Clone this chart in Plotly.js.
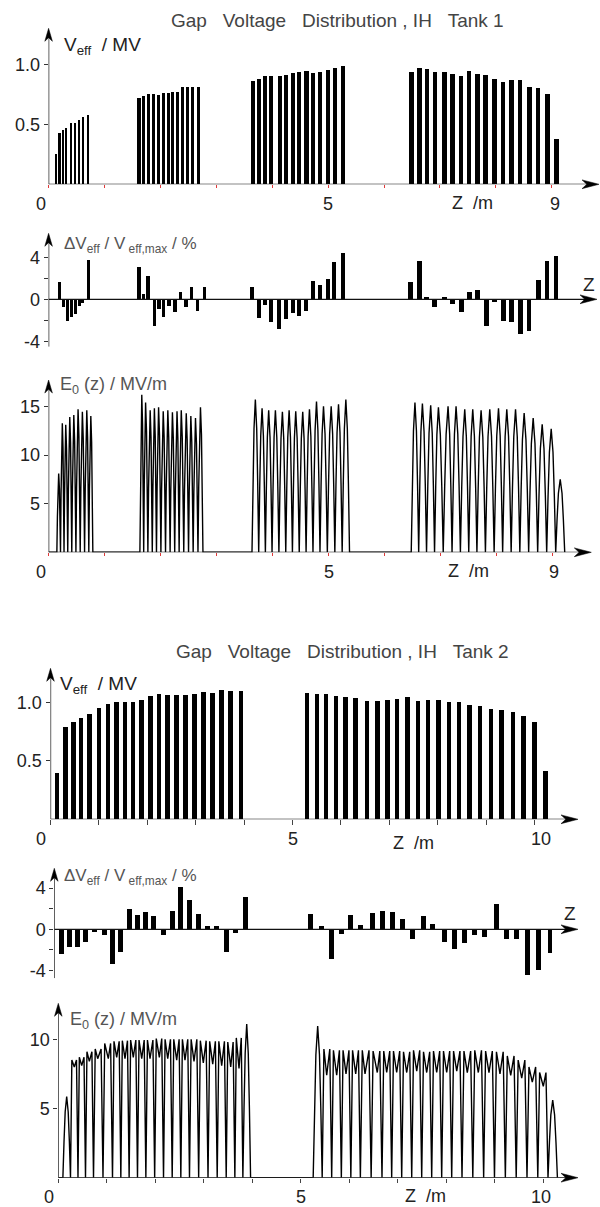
<!DOCTYPE html>
<html>
<head>
<meta charset="utf-8">
<script src="https://cdn.plot.ly/plotly-3.0.1.min.js"></script>
<style>
html,body{margin:0;padding:0;background:#fff;}
#chart{width:600px;height:1207px;}
</style>
</head>
<body>
<div id="chart"></div>
<script>
// ---------------- DATA ----------------
// Tank 1 : gap positions z (m) and effective gap voltages (MV)
const t1VzG1 = [0.14, 0.195, 0.255, 0.32, 0.40, 0.47, 0.545, 0.62, 0.705];
const t1VG1  = [0.25, 0.43, 0.45, 0.47, 0.51, 0.51, 0.54, 0.56, 0.58];
const t1VzG2 = [1.617, 1.70, 1.785, 1.875, 1.96, 2.05, 2.14, 2.225, 2.31, 2.40, 2.49, 2.58, 2.673];
const t1VG2  = [0.717, 0.736, 0.75, 0.75, 0.747, 0.758, 0.758, 0.767, 0.772, 0.808, 0.814, 0.808, 0.808];
const t1VzG3 = [3.657, 3.76, 3.87, 3.98, 4.136, 4.25, 4.367, 4.485, 4.614, 4.726, 4.85, 4.995, 5.12, 5.26];
const t1VG3  = [0.861, 0.88, 0.903, 0.903, 0.9, 0.911, 0.925, 0.936, 0.944, 0.93, 0.936, 0.953, 0.967, 0.99];
const t1VzG4 = [6.487, 6.632, 6.766, 6.909, 7.082, 7.225, 7.377, 7.523, 7.671, 7.82, 7.977, 8.13, 8.28, 8.433, 8.6, 8.755, 8.929, 9.082];
const t1VG4  = [0.933, 0.969, 0.958, 0.933, 0.933, 0.919, 0.906, 0.942, 0.919, 0.908, 0.875, 0.856, 0.867, 0.867, 0.811, 0.806, 0.756, 0.381];

// Tank 1 : deviation dV_eff / V_eff,max (%)
const t1DzG1 = [0.19, 0.27, 0.335, 0.405, 0.477, 0.549, 0.615, 0.71];
const t1DG1  = [1.65, -0.7, -2.03, -1.65, -1.4, -0.63, -0.38, 3.75];
const t1DzG2 = [1.617, 1.70, 1.778, 1.89, 1.975, 2.058, 2.154, 2.26, 2.363, 2.458, 2.56, 2.667, 2.785];
const t1DG2  = [3.08, 0.5, 2.22, -2.5, -0.92, -1.65, -0.63, -1.17, 0.7, -0.7, 1.17, -1.08, 1.17];
const t1DzG3 = [3.638, 3.763, 3.87, 3.978, 4.116, 4.247, 4.366, 4.485, 4.605, 4.73, 4.855, 4.998, 5.11, 5.26];
const t1DG3  = [1.17, -1.75, -0.54, -2.13, -2.86, -1.84, -1.33, -1.56, -1.08, 1.78, 1.37, 1.94, 3.56, 4.38];
const t1DzG4 = [6.47, 6.64, 6.757, 6.9, 7.08, 7.222, 7.383, 7.533, 7.676, 7.83, 7.98, 8.134, 8.277, 8.438, 8.594, 8.76, 8.916, 9.077];
const t1DG4  = [1.68, 3.65, 0.25, -0.7, 0.22, -0.41, -1.17, 0.7, 0.89, -2.5, -0.25, -2.03, -2.13, -3.27, -2.98, 1.84, 3.65, 4.13];

// Tank 1 : on-axis field E0(z) peak positions (m) and peak values (MV/m)
const t1EzG1 = [0.18, 0.245, 0.306, 0.378, 0.45, 0.526, 0.603, 0.682, 0.754];
const t1EG1  = [8.1, 13.25, 13.1, 13.9, 14.1, 14.7, 14.45, 14.6, 14.0];
const t1EzG2 = [1.664, 1.732, 1.814, 1.889, 1.964, 2.047, 2.129, 2.211, 2.293, 2.369, 2.458, 2.54, 2.623, 2.712];
const t1EG2  = [16.2, 15.4, 14.6, 14.8, 14.9, 14.5, 14.6, 14.4, 14.5, 14.6, 14.3, 14.0, 13.8, 14.9];
const t1EzG3 = [3.692, 3.812, 3.93, 4.05, 4.175, 4.295, 4.413, 4.538, 4.658, 4.784, 4.909, 5.046, 5.177, 5.308];
const t1EG3  = [15.7, 14.8, 14.6, 14.6, 14.45, 14.6, 14.5, 14.45, 14.7, 15.5, 15.0, 15.0, 15.2, 15.7];
const t1EzG4 = [6.542, 6.675, 6.823, 6.961, 7.133, 7.276, 7.431, 7.574, 7.723, 7.878, 8.034, 8.182, 8.338, 8.492, 8.653, 8.814, 8.975, 9.136];
const t1EG4  = [15.4, 15.3, 15.1, 14.9, 15.0, 15.0, 14.7, 14.7, 14.6, 14.7, 14.8, 14.7, 14.7, 14.3, 13.8, 13.15, 12.7, 7.5];

// Tank 2 : effective gap voltages (MV)
const t2VzG1 = [0.14, 0.306, 0.471, 0.636, 0.802, 1.0, 1.188, 1.36, 1.54, 1.705, 1.884, 2.062, 2.242, 2.421, 2.607, 2.785, 2.979, 3.157, 3.351, 3.537, 3.723, 3.936];
const t2VG1  = [0.40, 0.787, 0.837, 0.869, 0.899, 0.952, 0.989, 1.003, 1.003, 1.003, 1.023, 1.053, 1.069, 1.063, 1.063, 1.066, 1.072, 1.091, 1.083, 1.103, 1.1, 1.1];
const t2VzG2 = [5.3, 5.5, 5.698, 5.899, 6.099, 6.298, 6.545, 6.752, 6.959, 7.165, 7.38, 7.593, 7.799, 8.02, 8.233, 8.44, 8.653, 8.88, 9.101, 9.314, 9.55, 9.769, 9.996, 10.223];
const t2VG2  = [1.08, 1.071, 1.071, 1.058, 1.051, 1.037, 1.015, 1.015, 1.024, 1.034, 1.048, 1.016, 1.018, 1.018, 1.007, 1.003, 0.98, 0.966, 0.945, 0.937, 0.915, 0.883, 0.832, 0.415];

// Tank 2 : deviation (%)
const t2DzG1 = [0.149, 0.306, 0.479, 0.636, 0.822, 1.03, 1.194, 1.374, 1.545, 1.711, 1.89, 2.056, 2.262, 2.434, 2.614, 2.8, 2.986, 3.171, 3.357, 3.564, 3.75, 3.942];
const t2DG1  = [-2.42, -1.68, -1.74, -1.19, -0.23, -0.58, -3.39, -2.23, 1.97, 1.39, 1.68, 1.29, -0.52, 1.77, 4.06, 2.84, 1.48, 0.35, 0.35, -2.16, -0.32, 3.13];
const t2DzG2 = [5.3, 5.512, 5.719, 5.934, 6.12, 6.318, 6.566, 6.773, 6.979, 7.2, 7.4, 7.62, 7.82, 8.054, 8.26, 8.467, 8.674, 8.888, 9.128, 9.343, 9.556, 9.783, 10.01, 10.24];
const t2DG2  = [1.48, 0.32, -2.84, -0.45, 1.39, 0.42, 1.61, 1.81, 1.68, 1.03, -0.9, 1.29, 0.55, -1.19, -1.94, -1.35, -0.52, -0.71, 2.45, -0.9, -0.9, -4.45, -3.97, -2.26];

// Tank 2 : E0(z) peak positions, peak values and M-dip values (null = single hump)
const t2EzG1 = [0.173, 0.33, 0.482, 0.64, 0.812, 1.031, 1.204, 1.375, 1.546, 1.72, 1.891, 2.083, 2.256, 2.441, 2.612, 2.798, 2.99, 3.184, 3.369, 3.555, 3.726, 3.885];
const t2EG1  = [5.86, 8.5, 8.7, 9.1, 9.3, 9.7, 9.85, 9.9, 9.95, 9.95, 9.95, 10.05, 10.0, 10.0, 10.0, 10.0, 9.9, 9.85, 9.85, 9.8, 10.1, 11.1];
const t2EdG1 = [null, 8.0, 8.1, 8.4, 8.6, 8.6, 8.7, 8.6, 8.7, 8.6, 8.6, 8.7, 8.6, 8.5, 8.5, 8.4, 8.3, 8.2, 8.1, 8.0, 7.9, null];
const t2EzG2 = [5.348, 5.534, 5.74, 5.932, 6.132, 6.324, 6.577, 6.771, 6.977, 7.184, 7.39, 7.596, 7.802, 8.008, 8.215, 8.433, 8.66, 8.88, 9.107, 9.328, 9.555, 9.773, 10.0, 10.194];
const t2EG2  = [10.96, 9.3, 9.2, 9.2, 9.2, 9.2, 9.15, 9.15, 9.15, 9.1, 9.2, 9.1, 9.15, 9.15, 9.15, 9.15, 9.2, 9.15, 9.1, 8.8, 8.5, 8.0, 7.6, 5.6];
const t2EdG2 = [null, 7.4, 7.4, 7.5, 7.5, 7.5, 7.6, 7.6, 7.6, 7.6, 7.7, 7.6, 7.6, 7.6, 7.7, 7.6, 7.6, 7.6, 7.5, 7.4, 7.2, 6.9, 6.6, null];

// Tick values / labels
const t1XTicks = [0,1,2,3,4,5,6,7,8,9];
const t1XLabels = [0,5,9];
const t2XTicks = [0,1,2,3,4,5,6,7,8,9,10];
const t2XLabels = [0,5,10];
const vTicks = [0.5, 1.0], vTickText = ['0.5','1.0'];
const dTicks = [-4,0,4], dTickText = ['-4','0','4'];
const dMinorTicks = [-2,2];
const e1Ticks = [5,10,15], e1TickText = ['5','10','15'];
const e2Ticks = [5,10], e2TickText = ['5','10'];

const title1 = 'Gap\u00A0\u00A0\u00A0Voltage\u00A0\u00A0\u00A0Distribution\u00A0, IH\u00A0\u00A0\u00A0Tank 1';
const title2 = 'Gap\u00A0\u00A0\u00A0Voltage\u00A0\u00A0\u00A0Distribution\u00A0, IH\u00A0\u00A0\u00A0Tank 2';
const labV = 'V<sub>eff</sub>\u00A0\u00A0/ MV';
const labD = '\u0394V<sub>eff</sub>\u00A0/\u00A0V<sub>\u00A0eff,max</sub>\u00A0/\u00A0%';
const labE = 'E<sub>0</sub>\u00A0(z)\u00A0/\u00A0MV/m';
const labZ = 'Z\u00A0\u00A0/m';

// ---------------- GEOMETRY / STYLE ----------------
const W = 600, H = 1207;
const FONT = 'Liberation Sans, Arial, Helvetica, sans-serif';
const geo = {
  1: {x0:48.6, kx:55.9, xe:599,   y0:184.3,  ky:120,   yt:28.3,   yb:184.3},
  2: {x0:48.6, kx:55.9, xe:597,   y0:299.3,  ky:10.5,  yt:233.3,  yb:346.7},
  3: {x0:48.6, kx:56.0, xe:591.3, y0:552.3,  ky:9.73,  yt:380,    yb:552.3},
  4: {x0:50.5, kx:48.4, xe:578,   y0:819.3,  ky:116.8, yt:668.3,  yb:819.3},
  5: {x0:54.3, kx:48.4, xe:578,   y0:929.3,  ky:10.3,  yt:868.3,  yb:978.3},
  6: {x0:58.3, kx:48.5, xe:578,   y0:1177.7, ky:13.84, yt:1003.3, yb:1177.7}
};
function xr(g){return [0,(g.xe-g.x0)/g.kx];}
function yr(g){return [(g.y0-g.yb)/g.ky,(g.y0-g.yt)/g.ky];}
function px(x){return x/W;}
function py(y){return 1-y/H;}

// pulse line built from read peaks (valleys between neighbouring gaps)
function pulses(zs, ps, ds){
  const X=[],Y=[]; const n=zs.length;
  for(let i=0;i<n;i++){
    const c=zs[i], p=ps[i];
    const L = i===0 ? c-(zs[1]-c)/2 : (zs[i-1]+c)/2;
    const R = i===n-1 ? c+(c-zs[n-2])/2 : (c+zs[i+1])/2;
    const w=R-L;
    if(i===0){X.push(L);Y.push(0);}
    const d = ds ? ds[i] : null;
    if(d===null||d===undefined){
      X.push(L+0.3*(c-L), L+0.6*(c-L), c, c+0.4*(R-c), c+0.7*(R-c), R);
      Y.push(0.45*p, 0.81*p, p, 0.81*p, 0.45*p, 0);
    } else {
      X.push(L+0.18*w, c, R-0.2*w, R); Y.push(p, d, p, 0);
    }
  }
  return {X,Y};
}
function eTrace(groups, ax){
  let X=[0],Y=[0];
  groups.forEach(g=>{const r=pulses(g[0],g[1],g[2]); X=X.concat(r.X); Y=Y.concat(r.Y);});
  return {type:'scatter',mode:'lines',x:X,y:Y,xaxis:'x'+ax,yaxis:'y'+ax,
    line:{color:'#000',width:1.4},hoverinfo:'skip'};
}
function bar(x,y,w,ax){
  return {type:'bar',x:x,y:y,width:w,xaxis:'x'+ax,yaxis:'y'+ax,
    marker:{color:'#000',line:{width:0}},hoverinfo:'skip'};
}

const data = [
  bar(t1VzG1,t1VG1,0.036,1), bar(t1VzG2,t1VG2,0.054,1), bar(t1VzG3,t1VG3,0.075,1), bar(t1VzG4,t1VG4,0.082,1),
  bar(t1DzG1,t1DG1,0.054,2), bar(t1DzG2,t1DG2,0.062,2), bar(t1DzG3,t1DG3,0.072,2), bar(t1DzG4,t1DG4,0.086,2),
  eTrace([[t1EzG1,t1EG1],[t1EzG2,t1EG2],[t1EzG3,t1EG3],[t1EzG4,t1EG4]],3),
  bar(t2VzG1,t2VG1,0.091,4), bar(t2VzG2,t2VG2,0.091,4),
  bar(t2DzG1,t2DG1,0.1,5), bar(t2DzG2,t2DG2,0.1,5),
  eTrace([[t2EzG1,t2EG1,t2EdG1],[t2EzG2,t2EG2,t2EdG2]],6)
];

const layout = {
  width:W, height:H, margin:{l:0,r:0,t:0,b:0},
  paper_bgcolor:'#fff', plot_bgcolor:'rgba(0,0,0,0)',
  showlegend:false, barmode:'overlay', bargap:0,
  font:{family:FONT, color:'#222', size:18},
  shapes:[], annotations:[]
};

const xTickCfg = {
  1:{vals:t1XTicks, color:'#e03a3a', len:3},
  2:null,
  3:{vals:t1XTicks, color:'#e03a3a', len:3},
  4:{vals:t2XTicks, color:'#444', len:5},
  5:null,
  6:{vals:t2XTicks, color:'#444', len:4}
};
const yTickCfg = {
  1:[vTicks,vTickText], 2:[dTicks,dTickText], 3:[e1Ticks,e1TickText],
  4:[vTicks,vTickText], 5:[dTicks,dTickText], 6:[e2Ticks,e2TickText]
};

for(let i=1;i<=6;i++){
  const g=geo[i];
  const xt=xTickCfg[i];
  layout['xaxis'+i] = {
    domain:[px(g.x0),px(g.xe)], range:xr(g), anchor:'y'+i,
    showgrid:false, zeroline:false, showline:false, fixedrange:true,
    ticks: xt?'outside':'', tickvals: xt?xt.vals:[], ticklen: xt?xt.len:0,
    tickcolor: xt?xt.color:'#000', tickwidth:1, showticklabels:false
  };
  layout['yaxis'+i] = {
    domain:[py(g.yb),py(g.yt)], range:yr(g), anchor:'x'+i,
    showgrid:false, zeroline:false, showline:false, fixedrange:true,
    ticks:'outside', ticklen:4, tickcolor:'#333', tickwidth:1,
    tickvals:yTickCfg[i][0], ticktext:yTickCfg[i][1],
    tickfont:{family:FONT,size:18,color:'#222'}
  };
  if(i===2||i===5){
    layout['yaxis'+i].minor = {tickvals:dMinorTicks, ticks:'outside', ticklen:4, tickcolor:'#333', tickwidth:1, showgrid:false};
  }
  const ymin=yr(g)[0], ymax=yr(g)[1], xmax=xr(g)[1];
  // axis lines
  layout.shapes.push({type:'line',xref:'x'+i,yref:'y'+i,x0:0,y0:0,x1:xmax-0.1,y1:0,line:{color:'#111',width:1.3}});
  layout.shapes.push({type:'line',xref:'x'+i,yref:'y'+i,x0:0,y0:ymin,x1:0,y1:ymax-(6/g.ky),line:{color:'#111',width:1.3}});
  // arrow heads (pixel geometry)
  const tx=g.xe, ty=g.y0, Lx=17, hx=4.4;
  layout.shapes.push({type:'path',xref:'paper',yref:'paper',
    path:`M${px(tx)},${py(ty)} L${px(tx-Lx)},${py(ty-hx)} L${px(tx-Lx*0.72)},${py(ty)} L${px(tx-Lx)},${py(ty+hx)} Z`,
    fillcolor:'#000',line:{color:'#000',width:0.5}});
  const ux=g.x0, uy=g.yt, Ly=13, hy=3.8;
  layout.shapes.push({type:'path',xref:'paper',yref:'paper',
    path:`M${px(ux)},${py(uy)} L${px(ux-hy)},${py(uy+Ly)} L${px(ux)},${py(uy+Ly*0.72)} L${px(ux+hy)},${py(uy+Ly)} Z`,
    fillcolor:'#000',line:{color:'#000',width:0.5}});
}

// x tick labels
function xLabels(ax, labels, ysh, shifts){
  labels.forEach(v=>{
    layout.annotations.push({xref:'x'+ax,yref:'y'+ax,x:v,y:0,text:String(v),showarrow:false,
      xanchor:'center',yanchor:'top',yshift:-ysh,xshift:(shifts[v]||0),
      font:{family:FONT,size:18,color:'#222'}});
  });
}
xLabels(1,t1XLabels,8,{0:-8,9:3});
xLabels(3,t1XLabels,8,{0:-8,9:1});
xLabels(4,t2XLabels,8,{0:-10,10:6});
xLabels(6,t2XLabels,7,{0:-9,10:-2});

function txt(text,x,y,xa,size,color){
  layout.annotations.push({xref:'paper',yref:'paper',x:px(x),y:py(y),text:text,showarrow:false,
    xanchor:xa,yanchor:'middle',font:{family:FONT,size:size,color:color}});
}
txt(title1,337.5,21,'center',19,'#444');
txt(title2,342.5,651.7,'center',19,'#444');
txt(labV,62,46,'left',19,'#222');
txt(labV,58,685,'left',19,'#222');
txt(labD,62,245,'left',17,'#555');
txt(labD,62,877,'left',17,'#555');
txt(labE,58,385,'left',18,'#555');
txt(labE,68,1020,'left',18,'#555');
txt(labZ,472.6,203,'center',18,'#222');
txt(labZ,468,571,'center',18,'#222');
txt(labZ,413,843,'center',18,'#222');
txt(labZ,425.7,1196,'center',18,'#222');
txt('Z',589,285,'center',19,'#222');
txt('Z',570,913,'center',19,'#222');

Plotly.newPlot('chart', data, layout, {staticPlot:true, displayModeBar:false});
</script>
</body>
</html>
